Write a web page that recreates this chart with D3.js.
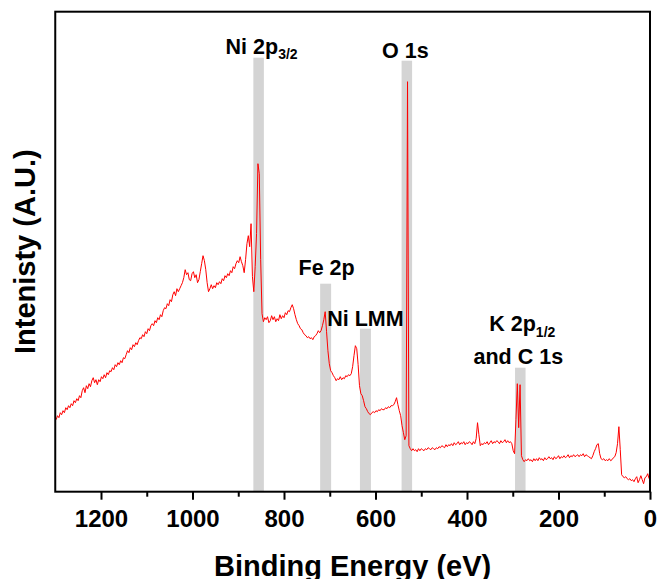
<!DOCTYPE html>
<html>
<head>
<meta charset="utf-8">
<script src="https://cdn.jsdelivr.net/npm/d3@7/dist/d3.min.js"></script>
<style>
  html, body { margin: 0; padding: 0; background: #ffffff; }
  svg { display: block; }
  text { font-family: Arial, "Liberation Sans", Helvetica, sans-serif; font-weight: bold; fill: #000; }
</style>
</head>
<body>
<svg id="chart" width="657" height="579"></svg>
<script>
// XPS survey spectrum, binding energy grid 1298 → 2 eV in 3 eV steps
const bindingEnergy = d3.range(1298, 0, -3);

// Intensity (arbitrary units), one value per grid point
const intensity = [
  72, 76, 74, 79, 77, 81, 79, 84, 82, 86,
  84, 88, 86, 91, 89, 93, 91, 96, 94, 101,
  104, 99, 106, 103, 108, 105, 111, 114, 109, 112,
  107, 112, 110, 115, 113, 117, 114, 119, 117, 121,
  120, 124, 122, 127, 125, 129, 127, 131, 129, 134,
  133, 137, 141, 139, 144, 142, 147, 145, 149, 147,
  151, 154, 153, 157, 155, 160, 158, 163, 161, 166,
  168, 166, 171, 169, 174, 172, 177, 175, 181, 184,
  183, 188, 186, 192, 190, 197, 200, 196, 203, 200,
  203, 206, 209, 214, 222, 217, 219, 212, 211, 218,
  220, 214, 217, 209, 212, 220, 228, 236, 231, 222,
  209, 200, 203, 207, 203, 206, 204, 209, 207, 210,
  208, 213, 211, 216, 214, 218, 216, 221, 219, 225,
  223, 228, 231, 229, 235, 230, 226, 219, 232, 248,
  256, 245, 268, 215, 200, 225, 258, 328, 318, 232,
  178, 170, 174, 172, 175, 169, 171, 176, 172, 175,
  170, 173, 171, 177, 173, 176, 174, 179, 177, 181,
  180, 184, 187, 183, 177, 172, 168, 166, 163, 162,
  159, 157, 156, 154, 155, 153, 154, 152, 155, 156,
  158, 161, 159, 161, 166, 172, 180, 160, 141, 128,
  121, 119, 116, 114, 111, 113, 112, 115, 112, 114,
  113, 116, 115, 117, 116, 118, 125, 136, 146, 143,
  127, 106, 98, 96, 91, 85, 83, 80, 78, 77,
  79, 80, 79, 81, 80, 82, 81, 83, 82, 82,
  84, 83, 85, 84, 86, 86, 87, 90, 94, 87,
  81, 76, 66, 59, 52, 56, 410, 46, 43, 41,
  43, 41, 42, 40, 43, 41, 43, 42, 41, 43,
  42, 44, 43, 42, 44, 43, 42, 44, 43, 45,
  44, 46, 45, 44, 47, 45, 47, 46, 48, 46,
  49, 47, 48, 50, 47, 49, 48, 50, 47, 49,
  48, 50, 49, 47, 50, 48, 53, 69, 57, 46,
  48, 47, 49, 48, 50, 47, 49, 51, 48, 50,
  49, 51, 50, 48, 51, 49, 50, 52, 49, 51,
  49, 50, 48, 41, 38, 72, 108, 64, 107, 36,
  32, 30, 32, 31, 33, 31, 32, 30, 33, 31,
  33, 31, 34, 32, 33, 31, 34, 32, 33, 35,
  33, 34, 32, 35, 33, 34, 36, 33, 35, 34,
  36, 34, 35, 37, 34, 36, 35, 37, 35, 36,
  37, 35, 37, 36, 38, 35, 37, 36, 35, 34,
  33, 36, 40, 43, 47, 48, 38, 33, 32, 33,
  31, 32, 31, 33, 31, 32, 34, 35, 39, 48,
  65, 42, 17, 15, 14, 15, 13, 12, 13, 11,
  12, 10, 13, 15, 9, 12, 16, 12, 8, 14,
  15, 18, 13
];

// Highlighted peak regions
const bandNames = ["Ni 2p3/2", "Fe 2p", "Ni LMM", "O 1s", "K 2p1/2 and C 1s"];
const bandHigh  = [867, 721, 634, 543, 295];   // eV
const bandLow   = [844, 697, 610, 520, 272];   // eV
const bandTop   = [434, 208, 163, 431, 124];   // intensity

// Axis ticks
const majorTicks = [1200, 1000, 800, 600, 400, 200, 0];
const minorTicks = [1100, 900, 700, 500, 300, 100];

const xTitle = "Binding Energy (eV)";
const yTitle = "Intenisty (A.U.)";

// ---- layout ----
const svg = d3.select("#chart");
const plotLeft = 55.25, plotRight = 650, plotTop = 11.7, plotBottom = 491.7;

const x = d3.scaleLinear().domain([1300, 0]).range([plotLeft, plotRight]);
const y = d3.scaleLinear().domain([0, 480]).range([plotBottom, plotTop]);

// shaded bands
svg.append("g").selectAll("rect")
  .data(bandNames.map((n, i) => ({ n, hi: bandHigh[i], lo: bandLow[i], t: bandTop[i] })))
  .join("rect")
  .attr("x", d => x(d.hi))
  .attr("width", d => x(d.lo) - x(d.hi))
  .attr("y", d => y(d.t))
  .attr("height", d => y(0) - y(d.t))
  .attr("fill", "#d4d4d4");

// spectrum
const pts = bindingEnergy.map((e, i) => [e, intensity[i]]);
svg.append("path")
  .datum(pts)
  .attr("fill", "none")
  .attr("stroke", "#ff0000")
  .attr("stroke-width", 1)
  .attr("stroke-linejoin", "round")
  .attr("d", d3.line().x(d => x(d[0])).y(d => y(d[1])));

// frame
svg.append("rect")
  .attr("x", plotLeft).attr("y", plotTop)
  .attr("width", plotRight - plotLeft).attr("height", plotBottom - plotTop)
  .attr("fill", "none").attr("stroke", "#000").attr("stroke-width", 2);

// x axis: major ticks with labels, minor ticks without
const gx = svg.append("g").attr("transform", `translate(0,${plotBottom})`)
  .call(d3.axisBottom(x).tickValues(majorTicks).tickSize(8).tickPadding(10)
    .tickFormat(d3.format("d")));
gx.select(".domain").remove();
gx.selectAll(".tick line").attr("stroke", "#000").attr("stroke-width", 2);
gx.selectAll(".tick text")
  .style("font-size", "24px")
  .style("font-family", "Arial, 'Liberation Sans', sans-serif")
  .style("font-weight", "bold")
  .attr("fill", "#000");

const gm = svg.append("g").attr("transform", `translate(0,${plotBottom})`)
  .call(d3.axisBottom(x).tickValues(minorTicks).tickSize(5).tickFormat(""));
gm.select(".domain").remove();
gm.selectAll(".tick line").attr("stroke", "#000").attr("stroke-width", 2);

// axis titles
svg.append("text")
  .attr("x", (plotLeft + plotRight) / 2).attr("y", 576)
  .attr("text-anchor", "middle")
  .style("font-size", "29px")
  .text(xTitle);

svg.append("text")
  .attr("transform", `translate(35,${(plotTop + plotBottom) / 2}) rotate(-90)`)
  .attr("text-anchor", "middle")
  .style("font-size", "29px")
  .text(yTitle);

// peak labels: each line is a list of [text, subscript] pieces
const labelLines = [
  [[["Ni 2p", "3/2"]]],
  [[["Fe 2p", ""]]],
  [[["Ni LMM", ""]]],
  [[["O 1s", ""]]],
  [[["K 2p", "1/2"]], [["and C 1s", ""]]]
];
const labelDx  = [3, 1, 0, -1.5, -2];
const labelGap = [4, 9, 3, 2.5, 4];
const lineStep = 32.6;

labelLines.forEach((lines, i) => {
  const cx = x((bandHigh[i] + bandLow[i]) / 2) + labelDx[i];
  const base = y(bandTop[i]) - labelGap[i];
  lines.forEach((segs, j) => {
    const t = svg.append("text")
      .attr("x", cx + (i === 4 && j === 0 ? 4 : 0))
      .attr("y", base - (lines.length - 1 - j) * lineStep)
      .attr("text-anchor", "middle")
      .style("font-size", "21.5px");
    segs.forEach(([main, sub]) => {
      t.append("tspan").text(main);
      if (sub) {
        t.append("tspan").attr("dy", 5.5).style("font-size", "14px").text(sub);
      }
    });
  });
});
</script>
</body>
</html>
